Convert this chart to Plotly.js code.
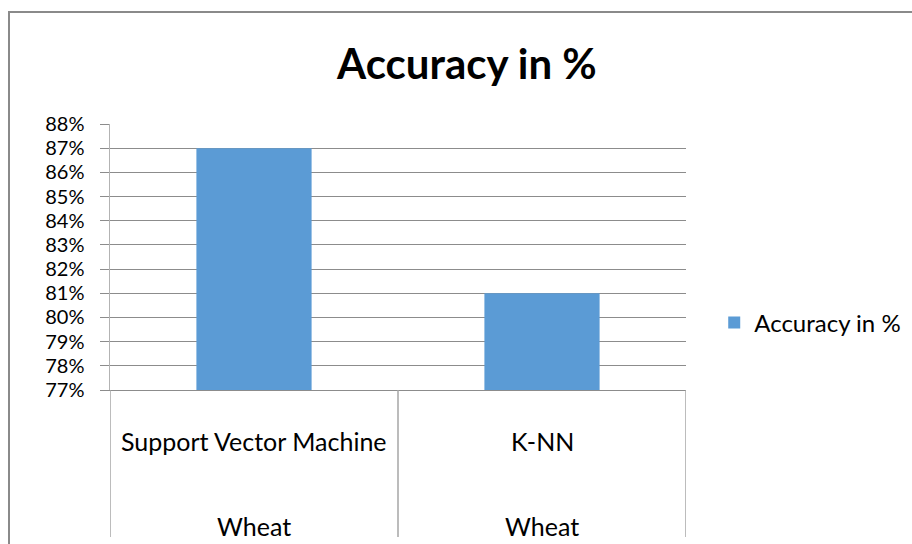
<!DOCTYPE html>
<html>
<head>
<meta charset="utf-8">
<script src="https://cdn.plot.ly/plotly-3.0.1.min.js"></script>
<style>
  html, body { margin: 0; padding: 0; background: #fff; overflow: hidden; width: 912px; height: 544px; }
  #frame { position: absolute; left: 8px; top: 11px; width: 1000px; height: 700px; border: 2px solid #8a8a8a; box-sizing: border-box; }
  #chart { position: absolute; left: 0; top: 0; width: 912px; height: 544px; }
</style>
</head>
<body>
<div id="frame"></div>
<div id="chart"></div>
<script>
// ---- data ----
const methods = ["Support Vector Machine", "K-NN"];
const crops = ["Wheat", "Wheat"];
const accuracy = [0.87, 0.81];
const seriesName = "Accuracy in %";
const chartTitle = "Accuracy in %";
const yMin = 0.77, yMax = 0.88, yStep = 0.01;

const FONT = "Lato, 'Liberation Sans', Arial, sans-serif";
const gridColor = "#8c8c8c";

const trace = {
  type: "bar",
  x: methods,
  y: accuracy,
  name: seriesName,
  marker: { color: "#5b9bd5" },
  showlegend: true,
  hoverinfo: "skip"
};

const annotations = [];
methods.forEach((m, i) => {
  annotations.push({ x: m, xref: "x", y: -0.19, yref: "paper", text: m, showarrow: false,
    font: { family: FONT, size: 25, color: "#000" }, xanchor: "center", yanchor: "middle" });
  annotations.push({ x: m, xref: "x", y: -0.51, yref: "paper", text: crops[i], showarrow: false,
    font: { family: FONT, size: 25, color: "#000" }, xanchor: "center", yanchor: "middle" });
});

const shapes = [];
for (let i = 0; i <= methods.length; i++) {
  shapes.push({ type: "line", xref: "x", yref: "paper", x0: i - 0.5, x1: i - 0.5, y0: 0, y1: -0.553,
    line: { color: "#a6a6a6", width: 1.5 } });
}

const layout = {
  width: 912, height: 544,
  margin: { l: 110, r: 226, t: 124, b: 154, autoexpand: false },
  paper_bgcolor: "rgba(0,0,0,0)",
  plot_bgcolor: "rgba(0,0,0,0)",
  font: { family: FONT, color: "#000" },
  title: { text: "<b>" + chartTitle + "</b>", xref: "container", yref: "container", x: 0.512, y: 0.882,
    xanchor: "center", yanchor: "middle", font: { family: FONT, size: 42, color: "#000" } },
  bargap: 0.6,
  xaxis: { type: "category", range: [-0.5, 1.5], showticklabels: false, ticks: "", showgrid: false,
    showline: true, linecolor: gridColor, linewidth: 1, zeroline: false, fixedrange: true },
  yaxis: { range: [yMin, yMax], dtick: yStep, tick0: yMin, tickformat: ".0%", showgrid: true,
    gridcolor: gridColor, gridwidth: 1, ticks: "outside", ticklen: 9, tickcolor: gridColor,
    showline: true, linecolor: "#b3b3b3", linewidth: 1.5, zeroline: false,
    tickfont: { family: FONT, size: 20, color: "#000" }, ticklabelstandoff: 11, fixedrange: true },
  legend: { x: 1.049, xanchor: "left", y: 0.252, yanchor: "middle", font: { family: FONT, size: 24, color: "#000" },
    bgcolor: "rgba(0,0,0,0)" },
  annotations: annotations,
  shapes: shapes
};

Plotly.newPlot("chart", [trace], layout, { staticPlot: true });
</script>
</body>
</html>
